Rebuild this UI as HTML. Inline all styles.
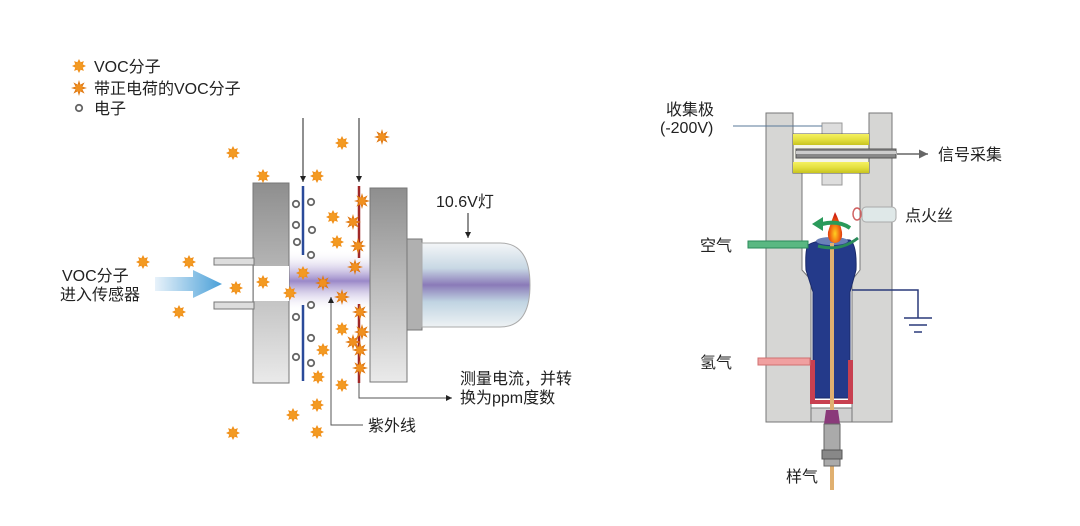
<!DOCTYPE html>
<html><head><meta charset="utf-8"><style>
html,body{margin:0;padding:0;background:#fff;width:1080px;height:526px;overflow:hidden}
svg{display:block}
text{font-family:"Liberation Sans","Noto Sans CJK SC",sans-serif;fill:#222}
</style></head><body>
<svg width="1080" height="526" viewBox="0 0 1080 526" xmlns="http://www.w3.org/2000/svg">
<defs>
<symbol id="s" viewBox="-6 -6 12 12" overflow="visible">
<polygon points="0,-6 1.4,-3.2 4.2,-4.2 3.2,-1.4 6,0 3.2,1.4 4.2,4.2 1.4,3.2 0,6 -1.4,3.2 -4.2,4.2 -3.2,1.4 -6,0 -3.2,-1.4 -4.2,-4.2 -1.4,-3.2" fill="#f0901a"/>
<circle r="3.2" fill="#f39a22"/>
</symbol>
<symbol id="c" viewBox="-7 -7 14 14" overflow="visible">
<polygon points="0,-7 1.2,-3 4.9,-4.9 3,-1.2 7,0 3,1.2 4.9,4.9 1.2,3 0,7 -1.2,3 -4.9,4.9 -3,1.2 -7,0 -3,-1.2 -4.9,-4.9 -1.2,-3" fill="#e07a14"/>
<circle r="3.2" fill="#f09020"/>
</symbol>
<linearGradient id="plateH" x1="0" y1="0" x2="0" y2="1"><stop offset="0" stop-color="#8e8e8e"/><stop offset="1" stop-color="#eaeaea"/></linearGradient>
<linearGradient id="bulb" x1="0" y1="0" x2="0" y2="1"><stop offset="0" stop-color="#f4f6f8"/><stop offset="0.3" stop-color="#c8d8e4"/><stop offset="0.5" stop-color="#8a7ab8"/><stop offset="0.7" stop-color="#c0d4e2"/><stop offset="1" stop-color="#eef2f4"/></linearGradient>
<linearGradient id="beam" x1="0" y1="0" x2="0" y2="1"><stop offset="0" stop-color="#fff" stop-opacity="0"/><stop offset="0.5" stop-color="#9a88c8"/><stop offset="1" stop-color="#fff" stop-opacity="0"/></linearGradient>
<linearGradient id="arr" x1="0" y1="0" x2="1" y2="0"><stop offset="0" stop-color="#e8f2fa"/><stop offset="1" stop-color="#4aa0d8"/></linearGradient>
<linearGradient id="yel" x1="0" y1="0" x2="0" y2="1"><stop offset="0" stop-color="#f4f060"/><stop offset="0.5" stop-color="#e4e040"/><stop offset="1" stop-color="#c8c420"/></linearGradient>
<radialGradient id="fl" cx="0.5" cy="0.7" r="0.6"><stop offset="0" stop-color="#ffd020"/><stop offset="0.6" stop-color="#f06010"/><stop offset="1" stop-color="#d02010"/></radialGradient>
<marker id="ah" markerWidth="8" markerHeight="8" refX="6" refY="4" orient="auto"><path d="M0,1 L6,4 L0,7z" fill="#222"/></marker>
<marker id="ag" markerWidth="8" markerHeight="8" refX="6" refY="4" orient="auto"><path d="M0,1 L6,4 L0,7z" fill="#666"/></marker>
</defs>

<use href="#s" x="72" y="59" width="14" height="14"/>
<text x="94" y="72" font-size="16">VOC分子</text>
<use href="#c" x="71" y="80" width="16" height="16"/>
<text x="94" y="94" font-size="16">带正电荷的VOC分子</text>
<circle cx="79" cy="108" r="3.2" fill="#fff" stroke="#666" stroke-width="1.8"/>
<text x="94" y="114" font-size="16">电子</text>

<rect x="289" y="250" width="135" height="62" fill="url(#beam)"/>
<rect x="253" y="183" width="36" height="200" fill="url(#plateH)" stroke="#777"/>
<rect x="214" y="258" width="40" height="7" fill="#ddd" stroke="#777"/>
<rect x="214" y="302" width="40" height="7" fill="#ddd" stroke="#777"/>
<rect x="254" y="266" width="35" height="35" fill="#fff"/>
<line x1="303" y1="186" x2="303" y2="255" stroke="#2a4a9a" stroke-width="2.5"/>
<line x1="303" y1="305" x2="303" y2="381" stroke="#2a4a9a" stroke-width="2.5"/>
<line x1="359" y1="186" x2="359" y2="258" stroke="#a02828" stroke-width="2.5"/>
<line x1="359" y1="304" x2="359" y2="383" stroke="#a02828" stroke-width="2.5"/>
<rect x="370" y="188" width="37" height="194" fill="url(#plateH)" stroke="#777"/>
<rect x="407" y="239" width="15" height="91" fill="#b0b0b0" stroke="#777"/>
<path d="M422,243 L500,243 Q530,243 530,285 Q530,327 500,327 L422,327z" fill="url(#bulb)" stroke="#aaa"/>
<line x1="303" y1="118" x2="303" y2="182" stroke="#222" stroke-width="1" marker-end="url(#ah)"/>
<line x1="359" y1="118" x2="359" y2="182" stroke="#222" stroke-width="1" marker-end="url(#ah)"/>
<text x="436" y="207" font-size="16">10.6V灯</text>
<line x1="468" y1="213" x2="468" y2="238" stroke="#222" stroke-width="1" marker-end="url(#ah)"/>
<polyline points="363,425 331,425 331,297" fill="none" stroke="#555" stroke-width="1" marker-end="url(#ah)"/>
<text x="368" y="431" font-size="16">紫外线</text>
<polyline points="359,383 359,398 452,398" fill="none" stroke="#555" stroke-width="1" marker-end="url(#ah)"/>
<text x="460" y="384" font-size="16">测量电流，并转</text>
<text x="460" y="403" font-size="16">换为ppm度数</text>
<polygon points="155,277 193,277 193,270 222,284 193,298 193,291 155,291" fill="url(#arr)"/>
<text x="62" y="281" font-size="16">VOC分子</text>
<text x="60" y="300" font-size="16">进入传感器</text>

<g fill="#fff" stroke="#666" stroke-width="1.8">
<circle cx="296" cy="204" r="3.2"/><circle cx="311" cy="202" r="3.2"/><circle cx="296" cy="225" r="3.2"/><circle cx="312" cy="230" r="3.2"/><circle cx="297" cy="242" r="3.2"/><circle cx="311" cy="255" r="3.2"/><circle cx="311" cy="305" r="3.2"/><circle cx="296" cy="317" r="3.2"/><circle cx="311" cy="338" r="3.2"/><circle cx="296" cy="357" r="3.2"/><circle cx="311" cy="363" r="3.2"/>
</g>
<g>
<use href="#s" x="226" y="146" width="14" height="14"/>
<use href="#s" x="256" y="169" width="14" height="14"/>
<use href="#s" x="310" y="169" width="14" height="14"/>
<use href="#s" x="335" y="136" width="14" height="14"/>
<use href="#s" x="326" y="210" width="14" height="14"/>
<use href="#s" x="330" y="235" width="14" height="14"/>
<use href="#s" x="296" y="266" width="14" height="14"/>
<use href="#s" x="283" y="286" width="14" height="14"/>
<use href="#s" x="256" y="275" width="14" height="14"/>
<use href="#s" x="229" y="281" width="14" height="14"/>
<use href="#s" x="182" y="255" width="14" height="14"/>
<use href="#s" x="136" y="255" width="14" height="14"/>
<use href="#s" x="172" y="305" width="14" height="14"/>
<use href="#s" x="335" y="322" width="14" height="14"/>
<use href="#s" x="316" y="343" width="14" height="14"/>
<use href="#s" x="311" y="370" width="14" height="14"/>
<use href="#s" x="335" y="378" width="14" height="14"/>
<use href="#s" x="310" y="398" width="14" height="14"/>
<use href="#s" x="286" y="408" width="14" height="14"/>
<use href="#s" x="226" y="426" width="14" height="14"/>
<use href="#s" x="310" y="425" width="14" height="14"/>
</g>
<g>
<use href="#c" x="374" y="129" width="16" height="16"/>
<use href="#c" x="345" y="214" width="16" height="16"/>
<use href="#c" x="354" y="193" width="16" height="16"/>
<use href="#c" x="350" y="238" width="16" height="16"/>
<use href="#c" x="347" y="259" width="16" height="16"/>
<use href="#c" x="315" y="275" width="16" height="16"/>
<use href="#c" x="334" y="289" width="16" height="16"/>
<use href="#c" x="352" y="304" width="16" height="16"/>
<use href="#c" x="354" y="324" width="16" height="16"/>
<use href="#c" x="345" y="334" width="16" height="16"/>
<use href="#c" x="352" y="342" width="16" height="16"/>
<use href="#c" x="352" y="360" width="16" height="16"/>
</g>

<path d="M766,113 L793,113 L793,173 L802,173 L802,270 L811,280 L811,422 L766,422z" fill="#d6d6d4" stroke="#777"/>
<path d="M869,113 L892,113 L892,422 L852,422 L852,280 L860,270 L860,173 L869,173z" fill="#d6d6d4" stroke="#777"/>
<rect x="811" y="408" width="41" height="14" fill="#d0d0d0" stroke="#777"/>
<rect x="822" y="123" width="20" height="12" fill="#ddd" stroke="#999"/>
<rect x="822" y="172" width="20" height="13" fill="#ddd" stroke="#999"/>
<rect x="793" y="134" width="76" height="39" fill="#f4f4e8" stroke="#555"/>
<rect x="793" y="134" width="76" height="11" fill="url(#yel)"/>
<rect x="793" y="162" width="76" height="11" fill="url(#yel)"/>
<rect x="796" y="149" width="100" height="9" fill="#888" stroke="#555"/>
<rect x="796" y="151" width="100" height="3" fill="#ccc"/>
<line x1="733" y1="126" x2="822" y2="126" stroke="#5a7a9a" stroke-width="1"/>
<text x="666" y="115" font-size="16">收集极</text>
<text x="660" y="133" font-size="16">(-200V)</text>
<line x1="897" y1="154" x2="928" y2="154" stroke="#666" stroke-width="1.5" marker-end="url(#ag)"/>
<text x="938" y="160" font-size="16">信号采集</text>
<path d="M808,245 Q820,238 850,240 Q857,245 856,270 L850,292 L850,398 L813,398 L813,292 L806,270 Q805,250 808,245z" fill="#243a8a" stroke="#1a2a6a"/>
<rect x="810" y="360" width="5" height="42" fill="#c84050"/>
<rect x="848" y="360" width="5" height="42" fill="#c84050"/>
<rect x="810" y="400" width="43" height="4" fill="#c84050"/>
<ellipse cx="832" cy="241" rx="16" ry="4" fill="#6a80b8"/>
<rect x="830" y="243" width="4" height="247" fill="#e0b070"/>
<polygon points="826,410 838,410 840,424 824,424" fill="#8a3a7a"/>
<rect x="824" y="424" width="16" height="42" fill="#aaa" stroke="#666"/>
<rect x="822" y="450" width="20" height="9" fill="#888" stroke="#555"/>
<text x="786" y="482" font-size="16">样气</text>
<path d="M835,212 Q830,225 828,232 Q827,242 835,243 Q843,242 842,232 Q840,222 835,212z" fill="url(#fl)"/>
<path d="M850,228 Q838,220 822,224" fill="none" stroke="#2a9a5a" stroke-width="4"/>
<polygon points="812,224 823,217 823,231" fill="#2a9a5a"/>
<path d="M818,246 Q840,252 858,238" fill="none" stroke="#2a8a5a" stroke-width="3"/>
<rect x="862" y="207" width="34" height="15" rx="4" fill="#dfe8e8" stroke="#aaa"/>
<ellipse cx="857" cy="214" rx="4" ry="6" fill="none" stroke="#d06060" stroke-width="1.5"/>
<text x="905" y="221" font-size="16">点火丝</text>
<rect x="748" y="241" width="60" height="7" fill="#5ab882" stroke="#2a8a5a"/>
<text x="700" y="251" font-size="16">空气</text>
<polyline points="852,290 918,290 918,318" fill="none" stroke="#2a3a7a" stroke-width="1.5"/>
<line x1="904" y1="318" x2="932" y2="318" stroke="#2a3a7a" stroke-width="1.5"/>
<line x1="909" y1="325" x2="927" y2="325" stroke="#2a3a7a" stroke-width="1.5"/>
<line x1="914" y1="332" x2="922" y2="332" stroke="#2a3a7a" stroke-width="1.5"/>
<rect x="758" y="358" width="52" height="7" fill="#f0a0a0" stroke="#d07070"/>
<text x="700" y="368" font-size="16">氢气</text>
</svg>
</body></html>
